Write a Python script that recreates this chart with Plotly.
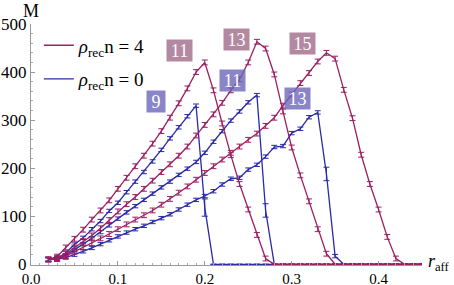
import plotly.graph_objects as go

# r_aff grid (0.02 ... 0.45, step 0.01)
r_aff = [round(0.02 + 0.01 * i, 2) for i in range(44)]

# rho_rec n = 4 (pink) curves, labelled 11, 13, 15
pink_11 = [10, 16, 35, 53, 72, 93, 112, 133, 157, 180, 204, 226, 251, 277, 305, 335, 366, 400, 420,
           362, 293, 227, 167, 114, 61, 12, 0,
           0, 0, 0, 0, 0, 0, 0, 0, 0, 0, 0, 0, 0, 0, 0, 0, 0]
pink_13 = [10, 13, 22, 35, 48, 60, 75, 92, 110, 125, 140, 157, 174, 192, 208, 226, 245, 268, 290,
           312, 336, 362, 385, 420, 463, 449, 395, 318, 243, 185, 131, 73, 22, 0,
           0, 0, 0, 0, 0, 0, 0, 0, 0, 0]
pink_15 = [10, 11, 17, 26, 35, 44, 54, 63, 73, 83, 93, 102, 112, 124, 136, 149, 162, 176, 190,
           204, 218, 232, 245, 259, 272, 288, 305, 330, 353, 377, 398, 422, 440, 428, 363, 304,
           228, 167, 114, 57, 12, 0,
           0, 0]

# rho_rec n = 0 (blue) curves, labelled 9, 11, 13
blue_9 = [10, 12, 24, 41, 55, 73, 90, 111, 128, 150, 172, 192, 214, 238, 262, 285, 308, 330, 118, 0,
          0, 0, 0, 0, 0, 0, 0, 0, 0, 0, 0, 0, 0, 0, 0, 0, 0, 0, 0, 0, 0, 0, 0, 0]
blue_11 = [10, 11, 19, 30, 42, 54, 67, 81, 95, 108, 121, 134, 147, 160, 172, 186, 199, 213, 232,
           255, 277, 299, 318, 337, 352, 112, 0,
           0, 0, 0, 0, 0, 0, 0, 0, 0, 0, 0, 0, 0, 0, 0, 0, 0]
blue_13 = [10, 10, 14, 20, 27, 34, 42, 50, 58, 66, 73, 80, 88, 96, 104, 114, 124, 134, 142, 152,
           166, 178, 180, 197, 207, 224, 244, 246, 273, 282, 306, 316, 188, 17, 0,
           0, 0, 0, 0, 0, 0, 0, 0, 0]

# error bar half-sizes
pink_err = 5
blue_err = 3.5
blue_drop_err = {"9": (0.20, 18), "11": (0.27, 14), "13": (0.34, 14)}

legend_pink = "<i>ρ</i><sub>rec</sub>n = 4"
legend_blue = "<i>ρ</i><sub>rec</sub>n = 0"

PINK = "#9c1f62"
BLUE = "#2a2aa8"
PINK_BOX = "rgba(160,108,138,0.8)"
BLUE_BOX = "rgba(108,102,186,0.8)"
FONT = "Liberation Serif"

fig = go.Figure()


def errs(vals, e, drop=None):
    out = []
    for x, v in zip(r_aff, vals):
        if drop is not None and abs(x - drop[0]) < 1e-9:
            out.append(drop[1])
        else:
            out.append(e if v > 0 else 0)
    return out


blue_series = [("9", blue_9), ("11", blue_11), ("13", blue_13)]
pink_series = [("11", pink_11), ("13", pink_13), ("15", pink_15)]

for i, (lab, vals) in enumerate(blue_series):
    fig.add_trace(go.Scatter(
        x=r_aff, y=vals, mode="lines",
        line=dict(color=BLUE, width=1.3),
        error_y=dict(type="data", array=errs(vals, blue_err, blue_drop_err[lab]),
                     color=BLUE, thickness=1, width=3),
        name=legend_blue, legendgroup="n0", showlegend=(i == 0), legendrank=2,
    ))
for i, (lab, vals) in enumerate(pink_series):
    fig.add_trace(go.Scatter(
        x=r_aff, y=vals, mode="lines",
        line=dict(color=PINK, width=1.3),
        error_y=dict(type="data", array=errs(vals, pink_err), color=PINK, thickness=1, width=3),
        name=legend_pink, legendgroup="n4", showlegend=(i == 0), legendrank=1,
    ))

# curve labels
labels = [
    ("9", 0.144, 338, BLUE_BOX),
    ("11", 0.171, 444, PINK_BOX),
    ("11", 0.2316, 382, BLUE_BOX),
    ("13", 0.236, 467, PINK_BOX),
    ("15", 0.313, 459, PINK_BOX),
    ("13", 0.307, 346, BLUE_BOX),
]
for txt, x, y, col in labels:
    fig.add_annotation(x=x, y=y, xref="x", yref="y", text=txt, showarrow=False,
                       font=dict(family=FONT, size=18, color="white"),
                       bgcolor=col, borderpad=3, height=15,
                       width=(19 if len(txt) > 1 else 12))

fig.add_annotation(x=0, y=1, xref="paper", yref="paper", text="M", showarrow=False,
                   xanchor="center", yanchor="bottom", yshift=1,
                   font=dict(family=FONT, size=18, color="black"))
fig.add_annotation(x=0.45, y=0, xref="x", yref="y", text="<i>r</i><sub>aff</sub>", showarrow=False,
                   xanchor="left", yanchor="middle", xshift=4, yshift=2,
                   font=dict(family=FONT, size=18, color="black"))

axis_common = dict(showgrid=False, zeroline=False, showline=True, linecolor="#999999", linewidth=1,
                   ticks="inside", tickcolor="#999999", ticklen=4, tickwidth=1, automargin=False)

fig.update_layout(
    width=454, height=285,
    margin=dict(l=31, r=31.5, t=24, b=20),
    paper_bgcolor="white", plot_bgcolor="white",
    xaxis=dict(range=[0, 0.45], tick0=0, dtick=0.1, tickformat=".1f",
               minor=dict(dtick=0.01, ticks="inside", ticklen=2, tickcolor="#aaaaaa"),
               tickfont=dict(family=FONT, size=15, color="black"),
               **axis_common),
    yaxis=dict(range=[-1.5, 500], tick0=0, dtick=100,
               minor=dict(dtick=20, ticks="inside", ticklen=2, tickcolor="#aaaaaa"),
               tickfont=dict(family=FONT, size=17, color="black"),
               **axis_common),
    legend=dict(x=0.02, y=0.99, xanchor="left", yanchor="top", bgcolor="rgba(0,0,0,0)",
                font=dict(family=FONT, size=19, color="black"),
                traceorder="grouped", tracegroupgap=6, itemwidth=30),
    showlegend=True,
)

# remove the browser's default 8px page margin so the figure fills the window exactly
fig.write_html("out.html", config={"displayModeBar": False},
               post_script="document.body.style.margin='0px';")
